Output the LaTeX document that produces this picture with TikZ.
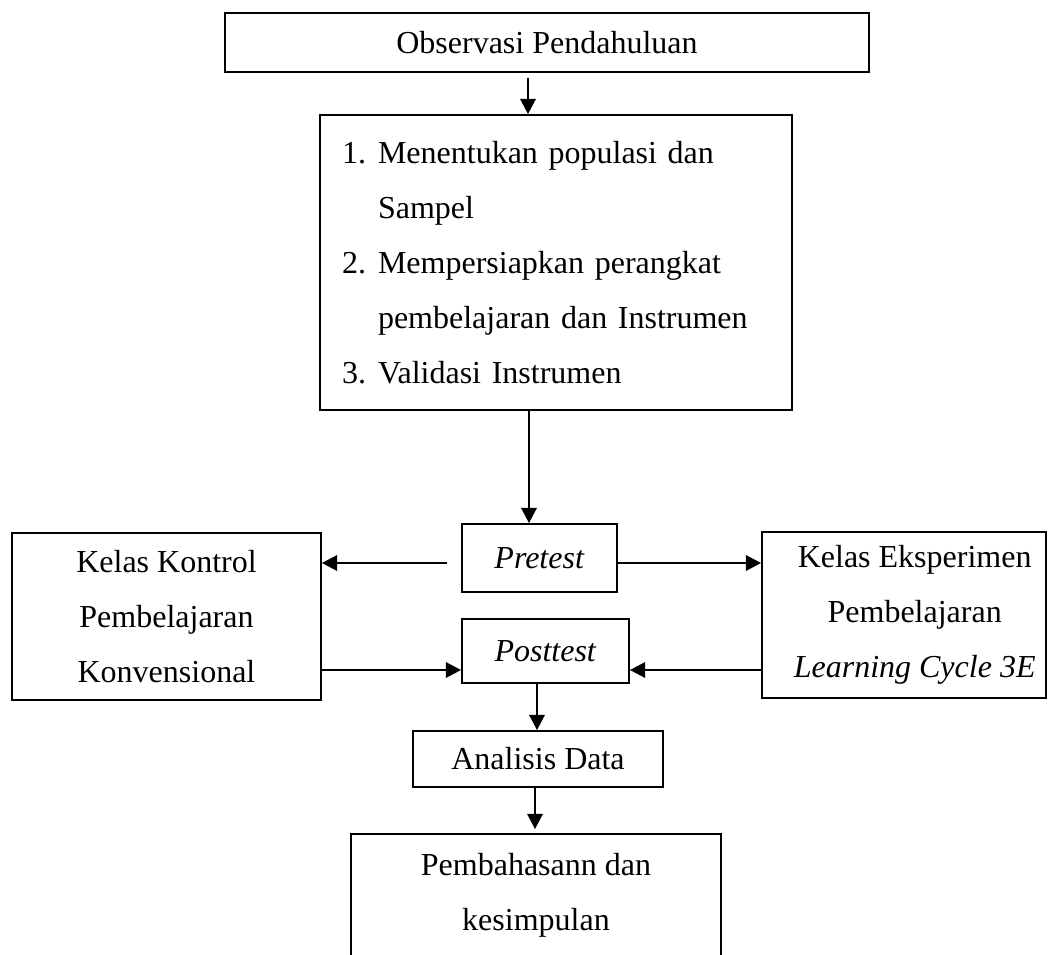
\documentclass[tikz,border=0pt]{standalone}
\usepackage{fontspec}
\setmainfont{Liberation Serif}
\usetikzlibrary{arrows.meta,calc}
\begin{document}
\begin{tikzpicture}[x=0.75pt,y=-0.75pt,
  box/.style={draw=black,line width=1.3pt,inner sep=0pt,align=center,
    font=\fontsize{24}{41.25}\selectfont},
  arr/.style={line width=1.9pt,-{Triangle[length=11.5pt,width=11.5pt]}}]
\useasboundingbox (0,0) rectangle (1056,955);
% nodes
\node[box,minimum width=483pt,minimum height=44.25pt] (obs) at (547,42.5) {Observasi Pendahuluan};
\node[box,minimum width=354pt,minimum height=221.25pt,text width=321pt,inner xsep=16.5pt,align=left] (prep) at (556,262.5)
  {\makebox[27pt][l]{1.}Menentukan populasi dan\\
   \hspace*{27pt}Sampel\\
   \makebox[27pt][l]{2.}Mempersiapkan perangkat\\
   \hspace*{27pt}pembelajaran dan Instrumen\\
   \makebox[27pt][l]{3.}Validasi Instrumen};
\node[box,minimum width=116.25pt,minimum height=51pt] (pre) at (539.5,558) {\textit{Pretest}};
\node[box,minimum width=125.25pt,minimum height=48pt] (post) at (545.5,651) {\textit{Posttest}};
\node[box,minimum width=231.75pt,minimum height=125.25pt] (kontrol) at (166.5,616.5)
  {Kelas Kontrol\\Pembelajaran\\Konvensional};
\node[box,minimum width=213pt,minimum height=124.5pt] (eksp) at (904,615)
  {\hspace*{16pt}Kelas Eksperimen\\\hspace*{16pt}Pembelajaran\\\hspace*{16pt}\textit{Learning Cycle 3E}};
\node[box,minimum width=187.5pt,minimum height=42pt] (ana) at (538,759) {Analisis Data};
\node[box,draw=none,minimum width=276pt,minimum height=90pt] (hasil) at (536,895)
  {Pembahasann dan\\kesimpulan};
\draw[line width=1.3pt] (hasil.south west) -- (hasil.north west) -- (hasil.north east) -- (hasil.south east);
% helper coordinates
\coordinate (c1) at (528,0);
\coordinate (c2) at (529,0);
\coordinate (c3) at (537,0);
\coordinate (c4) at (535,0);
\coordinate (ya) at (0,563);
\coordinate (yb) at (0,670);
% connectors
\draw[arr,shorten <=3.75pt] (obs.south -| c1) -- (prep.north -| c1);
\draw[arr] (prep.south -| c2) -- (pre.north -| c2);
\draw[arr,shorten <=10.5pt] (pre.west |- ya) -- (kontrol.east |- ya);
\draw[arr] (pre.east |- ya) -- (eksp.west |- ya);
\draw[arr] (kontrol.east |- yb) -- (post.west |- yb);
\draw[arr] (eksp.west |- yb) -- (post.east |- yb);
\draw[arr] (post.south -| c3) -- (ana.north -| c3);
\draw[arr,shorten >=3.75pt] (ana.south -| c4) -- (hasil.north -| c4);
\end{tikzpicture}
\end{document}
